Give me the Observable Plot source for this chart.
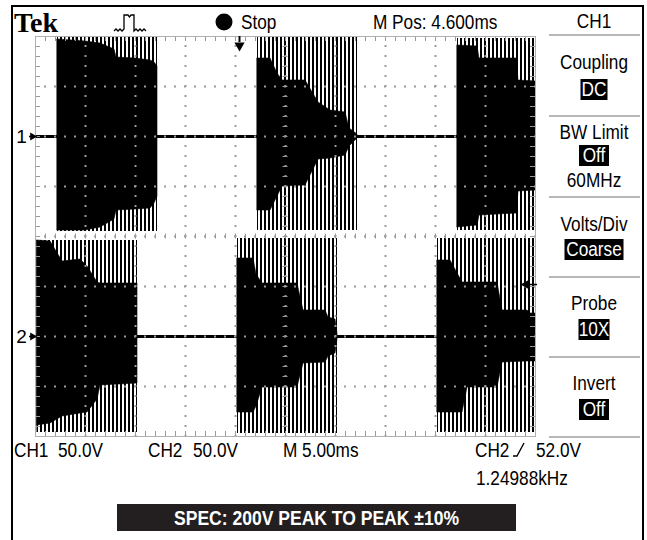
<!DOCTYPE html>
<html><head><meta charset="utf-8">
<script src="https://cdn.jsdelivr.net/npm/d3@7"></script>
<script src="https://cdn.jsdelivr.net/npm/@observablehq/plot@0.6"></script>
<style>
html,body{margin:0;padding:0;background:#fff;}
#wrap{position:relative;width:647px;height:540px;overflow:hidden;background:#fff;}
#wrap > svg{position:absolute;left:0;top:0;}
</style></head><body><div id="wrap"></div>
<script>
// ---- scope settings (read from the readouts) ----
const msPerDiv = 5;            // M 5.00ms
const voltsPerDiv = 50;        // CH1 50.0V, CH2 50.0V
const hDivs = 10, vDivs = 8;
const channels = ["CH1", "CH2"];
const groundDiv = [2, -2];     // ground markers, divisions from screen centre
const triggerTimeMs = 20.4;    // M Pos 4.600ms before screen centre
const triggerLevelV = 52.0;    // CH2 trigger level

// ---- burst extents (striped, flickering part): [channel, burst, start ms, end ms, top V, bottom V]
const burstSpans = [
  ["CH1", "A", 2.2, 12.2, 99, -95],
  ["CH1", "B", 22.2, 32.2, 99, -94],
  ["CH1", "C", 42.2, 50.0, 98, -94],
  ["CH2", "D", 0.15, 10.2, 96, -96],
  ["CH2", "E", 20.2, 30.2, 98, -97],
  ["CH2", "F", 40.2, 50.0, 98, -96]
];

// ---- dense (solid) envelope: [burst, ms, top V, bottom V]
const ch1Envelope = [
  ["A", 2.2, 97, -94], ["A", 5.0, 95, -94], ["A", 6.5, 93, -91], ["A", 7.9, 87, -83],
  ["A", 8.1, 79, -74], ["A", 10.0, 78, -73], ["A", 11.5, 76, -72], ["A", 11.9, 74, -67], ["A", 12.2, 70, -60],
  ["B", 22.2, 78, -74], ["B", 23.5, 78, -74], ["B", 24.2, 63, -60], ["B", 24.7, 56, -50],
  ["B", 27.0, 56, -49], ["B", 28.3, 34, -23], ["B", 29.5, 26, -22], ["B", 31.0, 24, -19],
  ["B", 31.4, 8, -10], ["B", 32.2, 2, -2],
  ["C", 42.2, 91, -91], ["C", 44.2, 90, -89], ["C", 44.4, 78, -79], ["C", 48.1, 78, -77],
  ["C", 48.3, 56, -55], ["C", 50.0, 55, -54]
];
const ch2Envelope = [
  ["D", 0.15, 96, -89], ["D", 1.5, 95, -87], ["D", 2.7, 75, -80], ["D", 4.5, 77, -77],
  ["D", 5.2, 70, -76], ["D", 6.2, 54, -63], ["D", 6.5, 53, -49], ["D", 10.2, 53, -47],
  ["E", 20.2, 78, -76], ["E", 21.8, 78, -76], ["E", 22.1, 62, -70], ["E", 22.7, 53, -51],
  ["E", 26.2, 53, -51], ["E", 26.8, 26, -27], ["E", 29.0, 26, -26], ["E", 29.3, 19, -20],
  ["E", 30.0, 17, -17], ["E", 30.2, 3, -3],
  ["F", 40.2, 76, -76], ["F", 41.5, 76, -76], ["F", 42.7, 54, -76], ["F", 43.2, 54, -51],
  ["F", 46.2, 54, -51], ["F", 46.7, 26, -26], ["F", 49.2, 26, -25], ["F", 49.5, 23, -25], ["F", 50.0, 23, -25]
];

// narrow scope lettering: Liberation Sans squeezed horizontally
const uiFont = "Liberation Sans";
const uiSize = 20.5;
const uiSx = 0.84;

// ---- build tables ----
const offset = Object.fromEntries(channels.map((c, i) => [c, groundDiv[i] * voltsPerDiv]));
const env = [
  ...ch1Envelope.map(([b, t, top, bot]) => ({ch: "CH1", burst: b, t, top: top + offset.CH1, bot: bot + offset.CH1})),
  ...ch2Envelope.map(([b, t, top, bot]) => ({ch: "CH2", burst: b, t, top: top + offset.CH2, bot: bot + offset.CH2}))
];
const spans = burstSpans.map(([ch, b, s, e, top, bot]) => ({ch, burst: b, s, e, top: top + offset[ch], bot: bot + offset[ch]}));
const xMax = hDivs * msPerDiv, yMax = vDivs / 2 * voltsPerDiv;
const xMajor = d3.range(1, hDivs).map(i => i * msPerDiv);
const yMajor = d3.range(-vDivs / 2 + 1, vDivs / 2).map(i => i * voltsPerDiv);
const xMinor = d3.range(0, hDivs * 5 + 1).map(i => i * msPerDiv / 5);
const yMinor = d3.range(0, vDivs * 5 + 1).map(i => -yMax + i * voltsPerDiv / 5);
const tickV = 5, tickT = 0.5; // tick lengths in data units (5 px)
const gridGrey = "#9a9a9a";

const plot = Plot.plot({
  width: 647, height: 540,
  marginTop: 36, marginBottom: 104, marginLeft: 35, marginRight: 112,
  x: {domain: [0, xMax], axis: null},
  y: {domain: [-yMax, yMax], axis: null},
  style: {background: "transparent", overflow: "visible"},
  marks: [
    Plot.ruleY(channels, {y: c => offset[c], stroke: "#000", strokeWidth: 3}),
    Plot.rect(spans, {x1: "s", x2: "e", y1: "bot", y2: "top", fill: "url(#scopeStripes)"}),
    Plot.areaY(env, {x: "t", y1: "bot", y2: "top", z: "burst", fill: "#000", stroke: "#000", strokeWidth: 0.6, curve: "linear"}),
    Plot.ruleX(xMajor, {stroke: gridGrey, strokeWidth: 2, strokeDasharray: "2,8", strokeDashoffset: 1}),
    Plot.ruleY(yMajor, {stroke: gridGrey, strokeWidth: 2, strokeDasharray: "2,8", strokeDashoffset: 1}),
    Plot.ruleX(xMinor, {x: d => d, y1: () => yMax, y2: () => yMax - tickV, stroke: gridGrey}),
    Plot.ruleX(xMinor, {x: d => d, y1: () => -yMax, y2: () => -yMax + tickV, stroke: gridGrey}),
    Plot.ruleX(xMinor, {x: d => d, y1: () => -tickV / 2, y2: () => tickV / 2, stroke: gridGrey}),
    Plot.ruleY(yMinor, {y: d => d, x1: () => 0, x2: () => tickT, stroke: gridGrey}),
    Plot.ruleY(yMinor, {y: d => d, x1: () => xMax, x2: () => xMax - tickT, stroke: gridGrey}),
    Plot.ruleY(yMinor, {y: d => d, x1: () => xMax / 2 - tickT / 2, x2: () => xMax / 2 + tickT / 2, stroke: gridGrey}),
    Plot.frame({stroke: "#b0b0b0"}),
    Plot.text(channels, {x: () => 0, y: c => offset[c], text: c => c.slice(2), dx: -14, fontSize: 19, fontFamily: uiFont, fill: "#000"}),
    Plot.ruleY(channels, {y: c => offset[c], x1: () => -0.6, x2: () => 0, stroke: "#000", strokeWidth: 1.5}),
    Plot.dot(channels, {x: () => 0, y: c => offset[c], dx: -3, symbol: "triangle", rotate: 90, r: 3, fill: "#000", stroke: "none"}),
    Plot.ruleX([triggerTimeMs], {x: d => d, y1: () => yMax, y2: () => yMax - 6, stroke: "#000", strokeWidth: 2}),
    Plot.dot([triggerTimeMs], {x: d => d, y: () => yMax, dy: 9, symbol: "triangle", rotate: 180, r: 3.8, fill: "#000", stroke: "none"}),
    Plot.ruleY([triggerLevelV], {y: v => v + offset.CH2, x1: () => xMax - 1.0, x2: () => xMax + 0.2, stroke: "#000", strokeWidth: 1.5}),
    Plot.dot([triggerLevelV], {x: () => xMax, y: v => v + offset.CH2, dx: -9, symbol: "triangle", rotate: -90, r: 3.8, fill: "#000", stroke: "none"})
  ]
});

const NS = "http://www.w3.org/2000/svg";
const defs = document.createElementNS(NS, "defs");
defs.innerHTML = '<pattern id="scopeStripes" patternUnits="userSpaceOnUse" x="0" y="0" width="4" height="8"><rect x="0" y="0" width="2" height="8" fill="#000"/></pattern>';
plot.insertBefore(defs, plot.firstChild);
document.getElementById("wrap").appendChild(plot);

// ---- instrument bezel text (overlay) ----
const menu = [
  {label: "Coupling", ly: 69, value: "DC", by: 79, bw: 27},
  {label: "BW Limit", ly: 139, value: "Off", by: 145, bw: 30, extra: "60MHz", ey: 187},
  {label: "Volts/Div", ly: 231, value: "Coarse", by: 239, bw: 59},
  {label: "Probe", ly: 310, value: "10X", by: 319, bw: 31},
  {label: "Invert", ly: 390, value: "Off", by: 399, bw: 30}
];
const separators = [35, 116, 197, 277, 357, 437];
const mx = 594;
function T(x, y, s, anchor = "start", fill = "#000") {
  return `<text transform="translate(${x},${y}) scale(${uiSx},1)" text-anchor="${anchor}" fill="${fill}">${s}</text>`;
}
let o = `<svg xmlns="${NS}" width="647" height="540" font-family="${uiFont}, sans-serif" font-size="${uiSize}" fill="#000">`;
o += `<rect x="12" y="6" width="631" height="600" fill="none" stroke="#000" stroke-width="2"/>`;
o += `<text x="14" y="32" font-family="Liberation Serif, DejaVu Serif, serif" font-weight="bold" font-size="28">Tek</text>`;
o += `<path d="M114,31 l2,-2 l2,2 l2,-2 l2,2 l2,-2 V15 h4 l1.5,2 l1.5,-2 h3 V31 l2,-2 l2,2 l2,-2 l2,2 l2,-2 l2,2" fill="none" stroke="#000" stroke-width="1.3"/>`;
o += `<circle cx="224" cy="22" r="8.5" fill="#000"/>`;
o += T(241, 29, "Stop");
o += T(373, 29, "M Pos: 4.600ms");
o += T(mx, 28, "CH1", "middle");
for (const y of separators) o += `<line x1="549" x2="640" y1="${y}" y2="${y}" stroke="#b8b8b8" stroke-width="2"/>`;
for (const m of menu) {
  o += T(mx, m.ly, m.label, "middle");
  o += `<rect x="${mx - m.bw / 2}" y="${m.by}" width="${m.bw}" height="21" fill="#000"/>`;
  o += T(mx, m.by + 17, m.value, "middle", "#fff");
  if (m.extra) o += T(mx, m.ey, m.extra, "middle");
}
o += T(14, 457, "CH1") + T(58, 457, "50.0V");
o += T(148, 457, "CH2") + T(193, 457, "50.0V");
o += T(283, 457, "M 5.00ms");
o += T(475, 457, "CH2");
o += `<path d="M513,456 H517 L524,443" fill="none" stroke="#000" stroke-width="1.4"/>`;
o += T(536, 457, "52.0V");
o += T(476, 485, "1.24988kHz");
o += `<rect x="117" y="504" width="399" height="27" fill="#231f20"/>`;
o += `<text x="316.5" y="525" text-anchor="middle" fill="#fff" font-family="Liberation Sans, sans-serif" font-weight="bold" font-size="21" textLength="285" lengthAdjust="spacingAndGlyphs">SPEC: 200V PEAK TO PEAK ±10%</text>`;
o += `</svg>`;
document.getElementById("wrap").insertAdjacentHTML("beforeend", o);
</script></body></html>
